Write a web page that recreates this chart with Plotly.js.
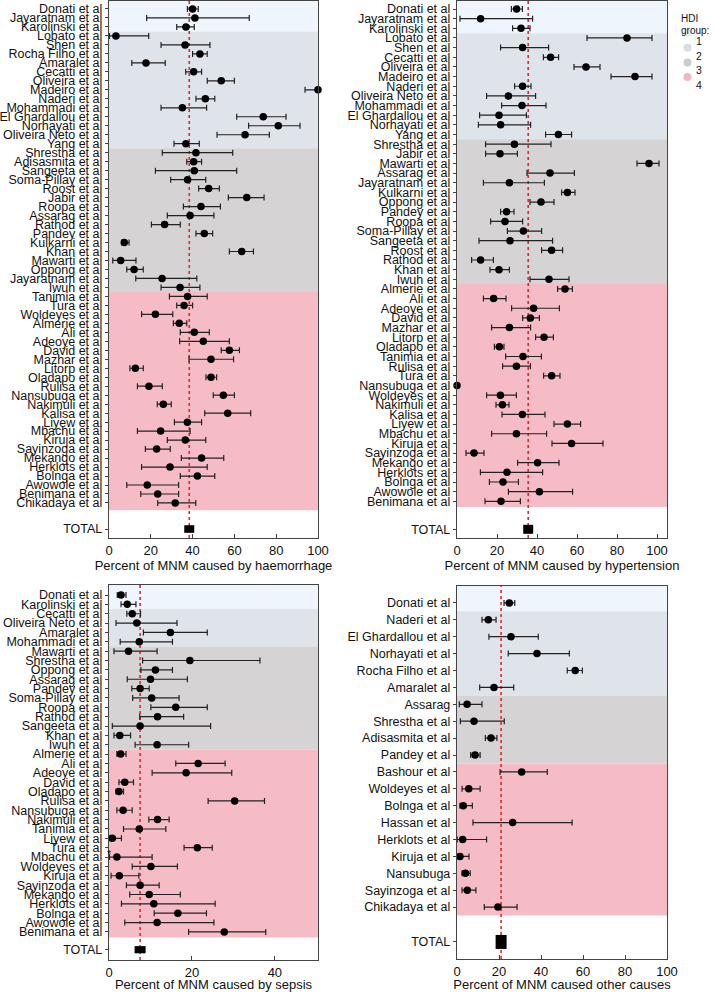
<!DOCTYPE html>
<html>
<head>
<meta charset="utf-8">
<script src="https://cdn.plot.ly/plotly-3.0.1.min.js"></script>
<style>
  html, body { margin: 0; padding: 0; background: #fff; }
  #chart { width: 714px; height: 992px; }
</style>
</head>
<body>
<div id="chart"></div>
<script>
// ---- haemorrhage ----
var HEM_STUDIES = ['Donati et al', 'Jayaratnam et al', 'Karolinski et al', 'Lobato et al', 'Shen et al',
  'Rocha Filho et al', 'Amaralet al', 'Cecatti et al', 'Oliveira et al', 'Madeiro et al', 'Naderi et al',
  'Mohammadi et al', 'El Ghardallou et al', 'Norhayati et al', 'Oliveira Neto et al', 'Yang et al',
  'Shrestha et al', 'Adisasmita et al', 'Sangeeta et al', 'Soma-Pillay et al', 'Roost et al', 'Jabir et al',
  'Roopa et al', 'Assarag et al', 'Rathod et al', 'Pandey et al', 'Kulkarni et al', 'Khan et al',
  'Mawarti et al', 'Oppong et al', 'Jayaratnam et al', 'Iwuh et al', 'Tanimia et al', 'Tura et al',
  'Woldeyes et al', 'Almerie et al', 'Ali et al', 'Adeoye et al', 'David et al', 'Mazhar et al',
  'Litorp et al', 'Oladapo et al', 'Rulisa et al', 'Nansubuga et al', 'Nakimuli et al', 'Kalisa et al',
  'Liyew et al', 'Mbachu et al', 'Kiruja et al', 'Sayinzoga et al', 'Mekango et al', 'Herklots et al',
  'Bolnga et al', 'Awowole et al', 'Benimana et al', 'Chikadaya et al'];
var HEM_EST = [40.0, 41.1, 36.8, 3.3, 36.4, 43.5, 17.7, 40.5, 53.7, 100, 46.1, 35.1, 73.8, 81.0, 65.1, 36.8,
  41.6, 40.5, 40.8, 37.6, 47.7, 65.9, 44.0, 38.8, 26.6, 45.6, 7.3, 63.5, 5.6, 12.0, 25.4, 34.0,
  37.6, 35.9, 22.2, 33.6, 40.8, 45.1, 57.6, 48.8, 12.6, 48.8, 19.1, 54.7, 26.0, 56.8, 37.5, 24.7,
  36.5, 22.8, 44.3, 29.2, 42.3, 18.3, 23.3, 31.7];
var HEM_LO = [37.5, 18.0, 32.4, 0.2, 24.9, 40.0, 10.9, 36.7, 47.0, 93.8, 41.6, 24.9, 61.1, 66.8, 51.7, 31.1,
  25.5, 37.2, 22.2, 29.5, 42.9, 57.1, 35.6, 27.9, 20.3, 41.6, 6.1, 57.6, 1.8, 8.5, 12.8, 24.9,
  28.9, 32.4, 15.6, 30.8, 34.1, 33.8, 53.7, 38.3, 10.0, 46.4, 13.6, 49.9, 23.1, 45.8, 31.3, 13.6,
  27.9, 17.4, 34.6, 15.6, 34.1, 8.5, 15.2, 23.3];
var HEM_HI = [42.7, 67.1, 40.8, 19.0, 48.3, 47.0, 26.9, 44.3, 60.0, 100, 50.6, 46.7, 84.7, 91.4, 76.7, 43.2,
  59.2, 44.3, 61.1, 46.3, 52.8, 74.2, 53.3, 50.2, 34.1, 49.6, 9.6, 69.1, 12.9, 16.4, 42.0, 43.5,
  47.0, 40.0, 30.5, 37.2, 48.0, 57.6, 62.4, 59.6, 16.4, 51.5, 25.5, 60.0, 29.8, 67.8, 44.3, 38.8,
  46.3, 29.3, 54.9, 47.0, 50.6, 33.3, 33.3, 41.5];
var HEM_HDI = [1, 1, 1, 2, 2, 2, 2, 2, 2, 2, 2, 2, 2, 2, 2, 2,
  3, 3, 3, 3, 3, 3, 3, 3, 3, 3, 3, 3, 3, 3, 3, 3,
  4, 4, 4, 4, 4, 4, 4, 4, 4, 4, 4, 4, 4, 4, 4, 4, 4, 4, 4, 4, 4, 4, 4, 4];
var HEM_TOTAL = 38.4;

// ---- hypertension ----
var HYP_STUDIES = ['Donati et al', 'Jayaratnam et al', 'Karolinski et al', 'Lobato et al', 'Shen et al',
  'Cecatti et al', 'Oliveira et al', 'Madeiro et al', 'Naderi et al', 'Oliveira Neto et al',
  'Mohammadi et al', 'El Ghardallou et al', 'Norhayati et al', 'Yang et al', 'Shrestha et al', 'Jabir et al',
  'Mawarti et al', 'Assarag et al', 'Jayaratnam et al', 'Kulkarni et al', 'Oppong et al', 'Pandey et al',
  'Roopa et al', 'Soma-Pillay et al', 'Sangeeta et al', 'Roost et al', 'Rathod et al', 'Khan et al',
  'Iwuh et al', 'Almerie et al', 'Ali et al', 'Adeoye et al', 'David et al', 'Mazhar et al', 'Litorp et al',
  'Oladapo et al', 'Tanimia et al', 'Rulisa et al', 'Tura et al', 'Nansubuga et al', 'Woldeyes et al',
  'Nakimuli et al', 'Kalisa et al', 'Liyew et al', 'Mbachu et al', 'Kiruja et al', 'Sayinzoga et al',
  'Mekango et al', 'Herklots et al', 'Bolnga et al', 'Awowole et al', 'Benimana et al'];
var HYP_EST = [29.8, 11.8, 32.0, 85.0, 32.8, 46.8, 64.5, 89.0, 32.8, 25.7, 32.5, 21.0, 21.8, 50.7,
  28.7, 21.5, 96.0, 46.5, 26.2, 55.2, 42.0, 24.8, 24.0, 33.2, 26.5, 47.3, 11.8, 21.0, 46.0,
  54.0, 18.3, 38.3, 36.7, 26.2, 43.5, 21.2, 33.0, 29.7, 47.3, 0, 21.7, 22.7, 32.7, 55.2, 29.7,
  57.3, 8.5, 40.3, 25.0, 23.0, 41.2, 22.0];
var HYP_LO = [27.2, 1.5, 27.8, 65.0, 21.8, 43.2, 58.5, 77.0, 28.8, 14.8, 22.3, 11.3, 10.7, 44.3,
  14.3, 14.3, 90.0, 35.0, 13.2, 52.3, 36.5, 21.8, 16.8, 25.2, 11.0, 42.3, 7.3, 16.5, 36.5,
  50.3, 13.2, 27.3, 32.8, 17.3, 39.3, 18.7, 24.3, 22.8, 43.3, 0, 14.8, 19.5, 22.5, 48.5, 17.3,
  47.5, 4.5, 30.3, 11.7, 16.2, 25.7, 14.0];
var HYP_HI = [32.7, 37.8, 36.5, 97.5, 45.8, 50.8, 71.5, 97.5, 37.0, 39.3, 44.5, 34.7, 36.8, 57.3,
  47.0, 30.2, 101.0, 58.7, 43.7, 59.0, 48.5, 28.5, 32.8, 42.3, 47.8, 52.8, 18.2, 26.2, 56.0,
  57.7, 24.5, 51.2, 41.2, 36.8, 48.2, 23.5, 42.2, 36.7, 51.5, 0, 29.7, 26.0, 44.0, 61.8, 44.8,
  73.0, 13.5, 51.0, 42.8, 30.7, 57.8, 31.7];
var HYP_HDI = [1, 1, 1, 2, 2, 2, 2, 2, 2, 2, 2, 2, 2, 2,
  3, 3, 3, 3, 3, 3, 3, 3, 3, 3, 3, 3, 3, 3, 3,
  4, 4, 4, 4, 4, 4, 4, 4, 4, 4, 4, 4, 4, 4, 4, 4, 4, 4, 4, 4, 4, 4, 4];
var HYP_TOTAL = 35.6;

// ---- sepsis ----
var SEP_STUDIES = ['Donati et al', 'Karolinski et al', 'Cecatti et al', 'Oliveira Neto et al', 'Amaralet al',
  'Mohammadi et al', 'Mawarti et al', 'Shrestha et al', 'Oppong et al', 'Assarag et al', 'Pandey et al',
  'Soma-Pillay et al', 'Roopa et al', 'Rathod et al', 'Sangeeta et al', 'Khan et al', 'Iwuh et al',
  'Almerie et al', 'Ali et al', 'Adeoye et al', 'David et al', 'Oladapo et al', 'Rulisa et al',
  'Nansubuga et al', 'Nakimuli et al', 'Tanimia et al', 'Liyew et al', 'Tura et al', 'Mbachu et al',
  'Woldeyes et al', 'Kiruja et al', 'Sayinzoga et al', 'Mekango et al', 'Herklots et al', 'Bolnga et al',
  'Awowole et al', 'Benimana et al'];
var SEP_EST = [2.9, 4.4, 5.6, 6.7, 14.8, 7.3, 4.7, 19.5, 11.2, 10.0, 7.5, 10.3, 16.1, 11.7, 7.5, 2.6, 11.6,
  2.8, 21.5, 18.6, 3.8, 2.4, 30.3, 3.4, 11.7, 7.3, 0.8, 21.3, 1.9, 10.1, 2.5, 7.5, 9.7, 10.8, 16.6, 11.6, 27.8];
var SEP_LO = [2.0, 2.9, 4.3, 1.7, 8.3, 2.7, 1.2, 8.1, 7.7, 4.4, 5.5, 5.7, 10.1, 7.4, 0.8, 1.2, 6.3,
  1.9, 16.1, 10.4, 2.4, 1.7, 23.9, 1.9, 9.6, 3.5, 0.2, 18.1, 0.1, 5.6, 0.5, 4.2, 5.0, 3.0, 10.9, 3.8, 19.2];
var SEP_HI = [4.1, 6.5, 7.6, 16.4, 23.7, 15.3, 11.6, 36.4, 15.3, 18.9, 9.7, 16.9, 23.7, 18.0, 24.5, 5.2, 19.2,
  4.1, 28.0, 29.6, 5.9, 3.5, 37.5, 5.6, 14.5, 13.7, 3.0, 24.9, 10.4, 16.5, 7.2, 12.1, 17.2, 25.6, 23.5, 25.3, 37.8];
var SEP_HDI = [1, 1, 2, 2, 2, 2, 3, 3, 3, 3, 3, 3, 3, 3, 3, 3, 3,
  4, 4, 4, 4, 4, 4, 4, 4, 4, 4, 4, 4, 4, 4, 4, 4, 4, 4, 4, 4];
var SEP_TOTAL = 7.5;

// ---- other causes ----
var OTH_STUDIES = ['Donati et al', 'Naderi et al', 'El Ghardallou et al', 'Norhayati et al', 'Rocha Filho et al',
  'Amaralet al', 'Assarag', 'Shrestha et al', 'Adisasmita et al', 'Pandey et al', 'Bashour et al',
  'Woldeyes et al', 'Bolnga et al', 'Hassan et al', 'Herklots et al', 'Kiruja et al', 'Nansubuga',
  'Sayinzoga et al', 'Chikadaya et al'];
var OTH_EST = [24.9, 14.9, 25.7, 38.1, 56.3, 17.6, 4.8, 8.1, 16.2, 8.6, 30.8, 5.6, 3.0, 26.5, 2.7, 1.4, 4.0, 4.9, 19.5];
var OTH_LO = [22.4, 11.9, 15.2, 24.4, 52.5, 10.8, 1.1, 1.6, 13.5, 6.5, 20.5, 2.4, 1.4, 7.6, 0.1, 0.1, 2.4, 2.4, 13.0];
var OTH_HI = [27.5, 18.6, 38.7, 53.5, 59.7, 27.0, 11.9, 22.5, 19.0, 11.0, 43.0, 11.0, 7.3, 54.8, 14.1, 5.7, 6.3, 9.0, 28.6];
var OTH_HDI = [1, 2, 2, 2, 2, 2, 3, 3, 3, 3, 4, 4, 4, 4, 4, 4, 4, 4, 4];
var OTH_TOTAL = 21.0;

var HDI_LEVELS = [1, 2, 3, 4];
var HDI_COLORS = { 1: '#eef5fc', 2: '#dfe3ea', 3: '#d5d3d3', 4: '#f6bcc6' };
var LEGEND_COLORS = { 1: '#e4eef9', 2: '#d9dde4', 3: '#cfcbcb', 4: '#f5b6c1' };

var W = 714, H = 992;
var FONT = 'Liberation Sans, Arial, Helvetica, sans-serif';

// panel geometry in page pixels
var PANELS = [
  { studies: HEM_STUDIES, est: HEM_EST, lo: HEM_LO, hi: HEM_HI, hdi: HEM_HDI, total: HEM_TOTAL,
    title: 'Percent of MNM caused by haemorrhage', xRange: [0, 100], ticks: [0, 20, 40, 60, 80, 100],
    px: [109, 318], py: [1, 538], yRange: [59.9, 0.11], totalRow: 58.9, lastPad: 0.3, rect: [5, 3.8] },
  { studies: HYP_STUDIES, est: HYP_EST, lo: HYP_LO, hi: HYP_HI, hdi: HYP_HDI, total: HYP_TOTAL,
    title: 'Percent of MNM caused by hypertension', xRange: [0, 105], ticks: [0, 20, 40, 60, 80, 100],
    px: [457, 667], py: [1, 538], yRange: [55.8, 0.17], totalRow: 54.9, lastPad: 0.1, rect: [5, 4.5] },
  { studies: SEP_STUDIES, est: SEP_EST, lo: SEP_LO, hi: SEP_HI, hdi: SEP_HDI, total: SEP_TOTAL,
    title: 'Percent of MNM caused by sepsis', xRange: [0, 50.4], ticks: [0, 20, 40],
    px: [109, 318], py: [585, 960], yRange: [40.0, -0.07], totalRow: 38.9, lastPad: 0.1, rect: [5.5, 3.6] },
  { studies: OTH_STUDIES, est: OTH_EST, lo: OTH_LO, hi: OTH_HI, hdi: OTH_HDI, total: OTH_TOTAL,
    title: 'Percent of MNM caused other causes', xRange: [0, 100], ticks: [0, 20, 40, 60, 80, 100],
    px: [457, 667], py: [586, 959], yRange: [22.07, 0.0], totalRow: 21.06, lastPad: 0, rect: [5.5, 7] }
];

var traces = [];
var shapes = [];
var annotations = [];
var layout = {
  width: W, height: H,
  margin: { t: 0, r: 0, b: 0, l: 0 },
  paper_bgcolor: '#ffffff',
  plot_bgcolor: '#ffffff',
  font: { family: FONT, color: '#111', size: 12 },
  showlegend: false
};

PANELS.forEach(function(p, i) {
  var sfx = i === 0 ? '' : String(i + 1);
  var xa = 'x' + sfx, ya = 'y' + sfx;
  var rows = p.studies.map(function(s, k) { return k + 1; });

  layout['xaxis' + sfx] = {
    domain: [p.px[0] / W, p.px[1] / W],
    anchor: ya,
    range: p.xRange,
    tickvals: p.ticks,
    ticks: 'inside', ticklen: 4, tickcolor: '#444',
    showline: true, mirror: true, linecolor: '#444', linewidth: 1.2,
    showgrid: false, zeroline: false,
    tickfont: { size: 13, color: '#111' },
    title: { text: p.title, font: { size: 13, color: '#111' }, standoff: 4 }
  };
  layout['yaxis' + sfx] = {
    domain: [1 - p.py[1] / H, 1 - p.py[0] / H],
    anchor: xa,
    range: p.yRange,
    tickvals: rows.concat([p.totalRow]),
    ticktext: p.studies.concat(['TOTAL']),
    ticks: 'outside', ticklen: 3, tickcolor: '#444',
    showline: true, mirror: true, linecolor: '#444', linewidth: 1.2,
    showgrid: false, zeroline: false,
    tickfont: { size: 12.5, color: '#111' }
  };

  // HDI background bands
  var start = 0;
  for (var k = 1; k <= p.hdi.length; k++) {
    if (k === p.hdi.length || p.hdi[k] !== p.hdi[start]) {
      var y0 = start === 0 ? p.yRange[1] : start + 0.5;
      var y1 = k === p.hdi.length ? k + 0.5 + p.lastPad : k + 0.5;
      shapes.push({
        type: 'rect', layer: 'below', xref: xa + ' domain', yref: ya,
        x0: 0, x1: 1, y0: y0, y1: y1,
        fillcolor: HDI_COLORS[p.hdi[start]], line: { width: 0 }
      });
      start = k;
    }
  }

  // pooled estimate line
  shapes.push({
    type: 'line', layer: 'below', xref: xa, yref: ya + ' domain',
    x0: p.total, x1: p.total, y0: 0, y1: 1,
    line: { color: '#e3262f', width: 1.6, dash: 'dot' }
  });

  // TOTAL box
  shapes.push({
    type: 'rect', layer: 'above', xref: xa, yref: ya,
    xsizemode: 'pixel', xanchor: p.total, x0: -p.rect[0], x1: p.rect[0],
    ysizemode: 'pixel', yanchor: p.totalRow, y0: -p.rect[1], y1: p.rect[1],
    fillcolor: '#000', line: { width: 0 }
  });

  traces.push({
    type: 'scatter', mode: 'markers',
    x: p.est, y: rows,
    xaxis: xa, yaxis: ya,
    cliponaxis: false,
    marker: { color: '#000', size: 7.5 },
    error_x: {
      type: 'data', symmetric: false,
      array: p.est.map(function(v, k) { return p.hi[k] - v; }),
      arrayminus: p.est.map(function(v, k) { return v - p.lo[k]; }),
      color: '#222', thickness: 1.2, width: 3
    },
    hoverinfo: 'x+text', text: p.studies
  });
});

// asterisk next to Woldeyes in sepsis panel
annotations.push({
  xref: 'paper', yref: 'paper', x: 105 / W, y: 1 - 862 / H,
  text: '*', showarrow: false, font: { size: 10, color: '#111' }
});

// HDI legend
annotations.push({
  xref: 'paper', yref: 'paper', x: 679 / W, y: 1 - 11 / H, xanchor: 'left',
  text: 'HDI', showarrow: false, font: { size: 10, color: '#111' }
});
annotations.push({
  xref: 'paper', yref: 'paper', x: 679 / W, y: 1 - 23 / H, xanchor: 'left',
  text: 'group:', showarrow: false, font: { size: 10, color: '#111' }
});
HDI_LEVELS.forEach(function(g, k) {
  var cy = 33 + k * 14.7;
  shapes.push({
    type: 'circle', xref: 'paper', yref: 'paper',
    x0: 683.5 / W, x1: 691.5 / W, y0: 1 - (cy + 4) / H, y1: 1 - (cy - 4) / H,
    fillcolor: LEGEND_COLORS[g], line: { width: 0 }
  });
  annotations.push({
    xref: 'paper', yref: 'paper', x: 694 / W, y: 1 - cy / H, xanchor: 'left',
    text: String(g), showarrow: false, font: { size: 10.5, color: '#111' }
  });
});

layout.shapes = shapes;
layout.annotations = annotations;

Plotly.newPlot('chart', traces, layout, { displayModeBar: false, staticPlot: true });
</script>
</body>
</html>
